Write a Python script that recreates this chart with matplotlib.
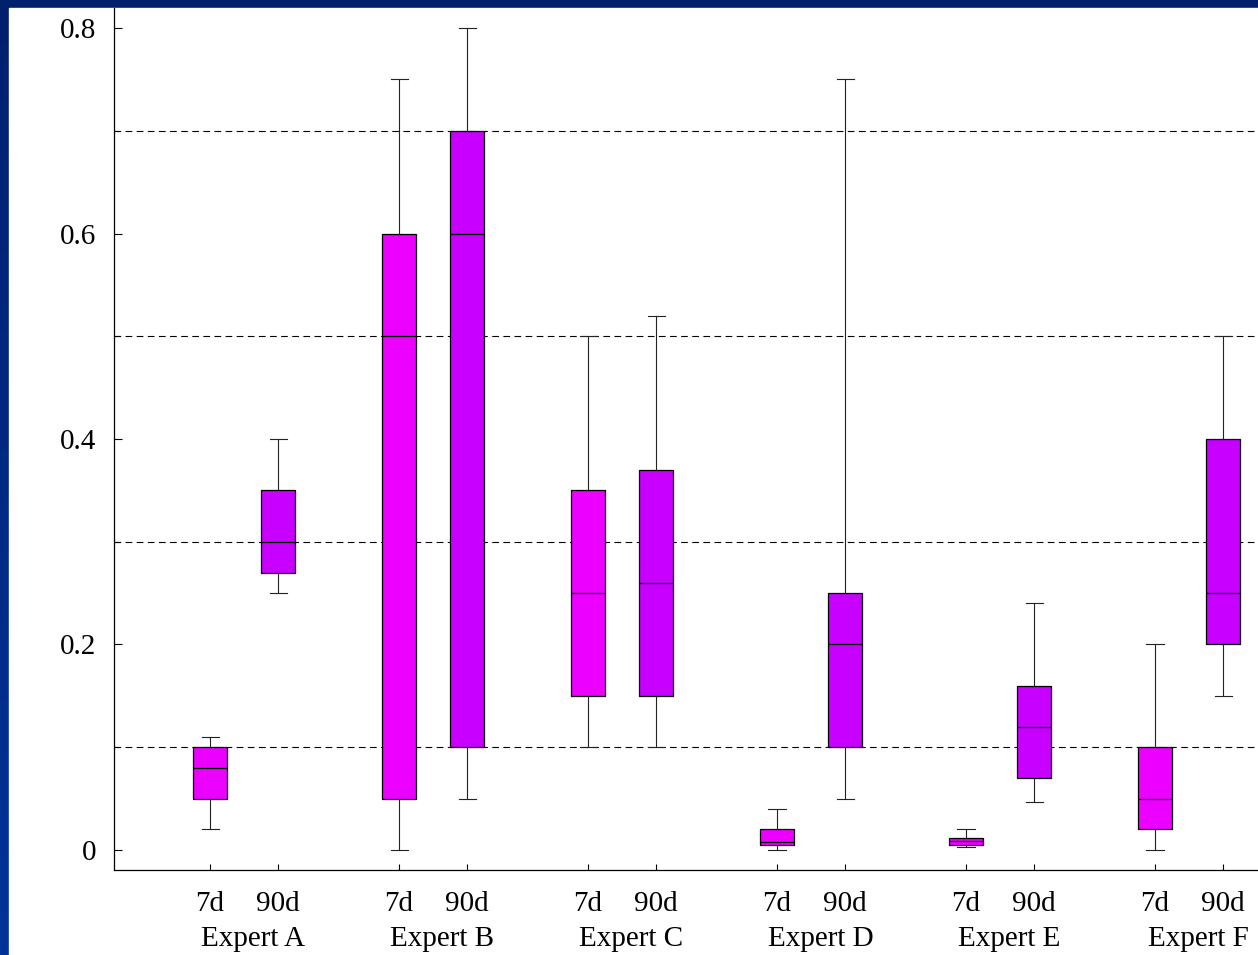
import numpy as np
import matplotlib
matplotlib.use("Agg")
import matplotlib.pyplot as plt
from matplotlib.patches import Rectangle
from matplotlib.ticker import MultipleLocator, FuncFormatter

experts = ["Expert A", "Expert B", "Expert C", "Expert D", "Expert E", "Expert F"]
periods = ["7d", "90d"]

# five-number summaries per expert: (whislo, q1, median, q3, whishi)
stats_7d = [
    (0.02, 0.05, 0.08, 0.10, 0.11),
    (0.00, 0.05, 0.50, 0.60, 0.75),
    (0.10, 0.15, 0.25, 0.35, 0.50),
    (0.00, 0.005, 0.008, 0.02, 0.04),
    (0.003, 0.005, 0.009, 0.012, 0.02),
    (0.00, 0.02, 0.05, 0.10, 0.20),
]
stats_90d = [
    (0.25, 0.27, 0.30, 0.35, 0.40),
    (0.05, 0.10, 0.60, 0.70, 0.80),
    (0.10, 0.15, 0.26, 0.37, 0.52),
    (0.05, 0.10, 0.20, 0.25, 0.75),
    (0.047, 0.07, 0.12, 0.16, 0.24),
    (0.15, 0.20, 0.25, 0.40, 0.50),
]
colors = ["#ec00ff", "#c800ff"]

plt.rcParams["font.family"] = ["Liberation Serif", "DejaVu Serif"]

W, H = 1258, 955
fig = plt.figure(figsize=(W / 100, H / 100), dpi=100)

# blue frame behind the white panel
bg = fig.add_axes([0, 0, 1, 1], zorder=-10)
grad = np.linspace(0, 1, 256).reshape(-1, 1)
bg.imshow(grad, aspect="auto", extent=[0, 1, 0, 1],
          cmap=matplotlib.colors.LinearSegmentedColormap.from_list(
              "frame", ["#003399", "#00206e"]), origin="lower")
bg.add_patch(Rectangle((9 / W, 0), 1, 1 - 8 / H, color="white"))
bg.set_xlim(0, 1)
bg.set_ylim(0, 1)
bg.axis("off")

ax = fig.add_axes([114 / W, 85 / H, 1 - 114 / W, (H - 85 - 8) / H])
ax.patch.set_alpha(0)

offset = 0.36
width = 0.18
for k, (data, col) in enumerate(zip([stats_7d, stats_90d], colors)):
    bx = []
    for s in data:
        bx.append(dict(whislo=s[0], q1=s[1], med=s[2], q3=s[3], whishi=s[4], fliers=[]))
    pos = np.arange(len(experts)) + k * offset
    ax.bxp(bx, positions=pos, widths=width, patch_artist=True, showfliers=False,
           boxprops=dict(facecolor=col, edgecolor="black", linewidth=0.9),
           medianprops=dict(color="black", linewidth=0.9),
           whiskerprops=dict(color="#222222", linewidth=0.8),
           capprops=dict(color="#222222", linewidth=0.8),
           manage_ticks=False, zorder=3)

ax.set_xlim(-0.508, 5.545)
ax.set_ylim(-0.0195, 0.8195)

ax.yaxis.set_major_locator(MultipleLocator(0.2))
ax.yaxis.set_minor_locator(MultipleLocator(0.1))
ax.yaxis.set_major_formatter(FuncFormatter(
    lambda v, p: "0" if abs(v) < 1e-9 else f"{v:.1f}"))
ax.grid(True, which="minor", axis="y", color="black", linestyle=(0, (6, 4)),
        linewidth=0.8, zorder=0)

xt = []
xl = []
for i in range(len(experts)):
    xt += [i, i + offset]
    xl += periods
ax.set_xticks(xt)
ax.set_xticklabels(xl)

ax.tick_params(axis="y", which="major", direction="in", length=6, width=0.8,
               labelsize=21, pad=13)
ax.tick_params(axis="y", which="minor", direction="in", length=4, width=0.8)
ax.tick_params(axis="x", direction="in", length=4, width=0.8, labelsize=21, pad=15)

for i, name in enumerate(experts):
    ax.annotate(name, xy=(i + offset / 2 + 0.05, 0), xycoords=("data", "axes fraction"),
                xytext=(0, -50), textcoords="offset points",
                ha="center", va="center", fontsize=21)

for side in ["top", "right"]:
    ax.spines[side].set_visible(False)
ax.spines["left"].set_linewidth(0.9)
ax.spines["bottom"].set_linewidth(0.9)

fig.savefig("out.png", dpi=100)
